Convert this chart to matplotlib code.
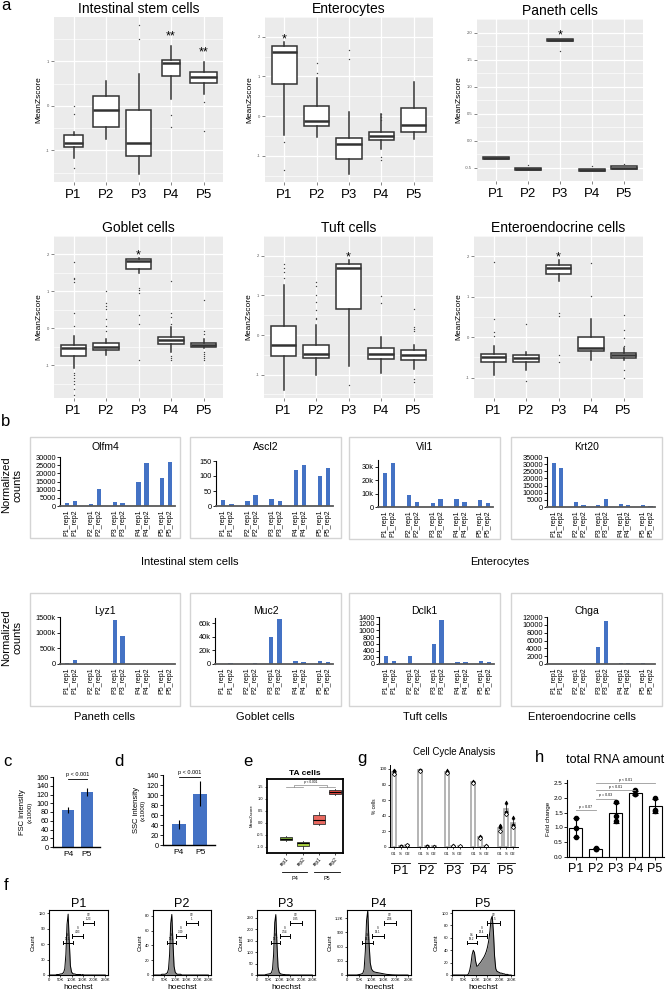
import numpy as np
import matplotlib
matplotlib.use('Agg')
import matplotlib.pyplot as plt
import matplotlib.transforms as mtransforms
from matplotlib.patches import Rectangle

plt.rcParams['font.family'] = ['Liberation Sans', 'DejaVu Sans']

W, H = 668, 992

passages = ['P1', 'P2', 'P3', 'P4', 'P5']

# a) MeanZscore boxes: (median, q1, q3, whisker lo, whisker hi, outliers)
isc_box = [(-0.84, -0.92, -0.65, -1.17, -0.59, [0.0, -0.17, -1.4]),
           (-0.08, -0.48, 0.23, -0.75, 0.56, []),
           (-0.84, -1.12, -0.08, -1.52, 0.72, [1.83, 1.5]),
           (0.96, 0.68, 1.04, 0.16, 1.34, [-0.2, -0.47]),
           (0.66, 0.51, 0.77, 0.27, 0.98, [0.08, -0.56])]
ent_box = [(1.61, 0.82, 1.77, -0.47, 1.86, [-0.64, -1.36]),
           (-0.11, -0.26, 0.25, -0.52, 0.95, [1.33, 1.09]),
           (-0.70, -1.07, -0.56, -1.47, 0.11, [1.67, 1.45]),
           (-0.50, -0.60, -0.41, -0.83, 0.06, [0.05, -0.03, -0.1, -1.04, -1.11]),
           (-0.22, -0.39, 0.21, -0.58, 0.86, [])]
paneth_box = [(-0.33, -0.35, -0.31, -0.35, -0.31, []),
              (-0.52, -0.54, -0.50, -0.54, -0.50, [-0.45]),
              (1.86, 1.84, 1.88, 1.84, 1.88, [1.66]),
              (-0.54, -0.56, -0.52, -0.56, -0.52, [-0.47]),
              (-0.50, -0.52, -0.48, -0.52, -0.48, [-0.43])]
goblet_box = [(-0.53, -0.76, -0.46, -1.09, -0.20, [1.8, 1.37, 1.33, 1.24, 0.41, 0.07, -1.2, -1.28, -1.36, -1.44, -1.52, -1.65, -1.8]),
              (-0.50, -0.59, -0.40, -0.72, -0.28, [1.0, 0.69, 0.61, 0.53, 0.24, 0.07, -0.07]),
              (1.81, 1.61, 1.87, 1.51, 1.91, [1.08, 1.04, 0.96, 0.37, 0.11, -0.87]),
              (-0.33, -0.42, -0.24, -0.63, 0.04, [1.27, 0.41, 0.31, 0.11, -0.75, -0.8, -0.87]),
              (-0.45, -0.50, -0.40, -0.53, -0.28, [0.76, -0.07, -0.15, -0.63, -0.7, -0.75, -0.8, -0.87])]
tuft_box = [(-0.26, -0.54, 0.23, -1.40, 1.26, [1.8, 1.68, 1.6, 1.44]),
            (-0.47, -0.59, -0.24, -1.00, 0.26, [1.33, 1.25, 1.0, 0.83, 0.64, 0.44, 0.4]),
            (1.70, 0.66, 1.80, -0.79, 1.90, [-1.25]),
            (-0.48, -0.60, -0.32, -0.97, -0.04, [0.98, 0.8]),
            (-0.50, -0.62, -0.37, -0.86, -0.24, [0.66, 0.21, 0.16, 0.1, -1.11, -1.18])]
eec_box = [(-0.50, -0.62, -0.41, -0.93, -0.21, [1.86, 0.46, 0.14, 0.03]),
           (-0.52, -0.60, -0.43, -0.81, -0.36, [0.33, -1.07]),
           (1.71, 1.57, 1.79, 1.40, 1.90, [0.6, 0.52, -0.43, -0.6]),
           (-0.26, -0.34, 0.01, -0.57, 0.45, [1.83, 1.02]),
           (-0.45, -0.52, -0.40, -0.57, -0.26, [0.55, 0.19, -0.03, -0.21, -0.81, -1.0])]
isc_stars = ['', '', '', '**', '**']
ent_stars = ['*', '', '', '', '']
p3_stars = ['', '', '*', '', '']

# b) normalized counts
rep_labels = ['P1_rep1', 'P1_rep2', 'P2_rep1', 'P2_rep2', 'P3_rep1', 'P3_rep2',
              'P4_rep1', 'P4_rep2', 'P5_rep1', 'P5_rep2']
olfm4 = [2000, 3000, 1200, 10500, 2500, 2000, 14500, 26500, 17000, 27000]
ascl2 = [20, 8, 17, 37, 23, 17, 120, 137, 99, 126]
vil1 = [25500, 32500, 9000, 4000, 3200, 6000, 6000, 4000, 5200, 3200]
krt20 = [30500, 27500, 3500, 1500, 1500, 5500, 2200, 1200, 1500, 900]
lyz1 = [30000, 130000, 0, 0, 1400000, 880000, 10000, 0, 0, 0]
muc2 = [500, 1500, 0, 1500, 40000, 66000, 4000, 3000, 5000, 3000]
dclk1 = [230, 100, 240, 0, 600, 1300, 50, 60, 100, 60]
chga = [0, 0, 0, 0, 4400, 11000, 150, 250, 200, 100]

# c, d) scatter intensity (x1000)
cd_groups = ['P4', 'P5']
fsc_mean = [84, 126]
fsc_err = [7, 9]
ssc_mean = [42, 103]
ssc_err = [9, 25]

# e) TA cells
ta_labels = ['rep1', 'rep2', 'rep1', 'rep2']
ta_box = [(-0.65, -0.72, -0.58, -0.75, -0.55, []),
          (-0.85, -0.97, -0.78, -1.10, -0.75, []),
          (0.12, -0.05, 0.35, -0.10, 0.45, []),
          (1.30, 1.20, 1.38, 1.15, 1.42, [])]

# g) cell cycle, replicate % cells
phases = ['G1', 'S', 'G2']
cc_g1 = [[98, 97, 93], [99, 98, 97], [98, 96, 95], [84, 83, 82], [28, 25, 20]]
cc_s = [[1, 1.5, 0.5], [1, 1.5, 0.5], [2.5, 1.5, 1], [14, 13, 12], [58, 45, 42]]
cc_g2 = [[1, 3, 2], [1, 0.5, 0.5], [1, 0.5, 0.8], [2, 1.5, 1], [38, 28, 26]]

# h) total RNA fold change
rna_reps = [[1.32, 0.98, 0.68], [0.30, 0.28, 0.26], [1.85, 1.40, 1.20],
            [2.25, 2.13, 2.12], [2.00, 1.60, 1.55]]
rna_tests = [(0, 1, 'p = 0.07'), (1, 2, 'p = 0.03'), (1, 3, 'p < 0.01'), (1, 4, 'p < 0.01')]

# f) hoechst histograms, counts per 5K bin from 0 to 250K
hoechst_k = np.arange(0, 255, 5)
hist_p1 = [0, 0, 0, 0, 0, 0, 0, 1, 1, 1, 2, 2, 3, 5, 12, 40, 98, 118, 65, 18,
           6, 3, 2, 2, 1, 1, 1, 1, 1, 0, 1, 0, 0, 0, 0, 0, 0, 0, 0, 0,
           0, 0, 0, 0, 0, 0, 0, 0, 0, 0, 0]
hist_p2 = [0, 0, 0, 0, 0, 0, 0, 0, 1, 1, 1, 1, 2, 3, 8, 28, 70, 82, 45, 12,
           4, 2, 1, 1, 1, 1, 0, 0, 0, 0, 0, 0, 0, 0, 0, 0, 0, 0, 0, 0,
           0, 0, 0, 0, 0, 0, 0, 0, 0, 0, 0]
hist_p3 = [0, 0, 0, 0, 0, 0, 0, 0, 2, 3, 4, 5, 6, 10, 25, 90, 230, 265, 140, 35,
           12, 6, 4, 3, 2, 2, 1, 1, 1, 1, 0, 0, 0, 0, 0, 0, 0, 0, 0, 0,
           0, 0, 0, 0, 0, 0, 0, 0, 0, 0, 0]
hist_p4 = [0, 0, 0, 0, 0, 0, 0, 0, 0, 5, 10, 15, 25, 40, 120, 500, 1150, 1360, 700, 260,
           130, 90, 70, 60, 55, 50, 45, 40, 35, 30, 25, 20, 15, 12, 10, 8, 6, 4, 3, 2,
           1, 1, 0, 0, 0, 0, 0, 0, 0, 0, 0]
hist_p5 = [0, 0, 0, 0, 0, 0, 0, 0, 0, 0, 0, 0, 0, 0, 2, 8, 18, 33, 40, 36,
           22, 14, 15, 18, 20, 23, 26, 29, 33, 38, 45, 55, 70, 90, 95, 70, 30, 10, 6, 5,
           4, 3, 3, 2, 2, 1, 1, 1, 0, 0, 0]
gate_pct = [['93.2', '4.83', '1.23'], ['95.1', '3.49', '1'], ['95.7', '3.54', '0.35'],
            ['83.3', '14.1', '2.06'], ['18.2', '29.4', '45.5']]

fig = plt.figure(figsize=(W / 100, H / 100), dpi=100)


def ax_px(x0, y0, x1, y1):
    return fig.add_axes([x0 / W, 1 - y1 / H, (x1 - x0) / W, (y1 - y0) / H])


def txt(x, y, s, **kw):
    kw.setdefault('ha', 'center')
    kw.setdefault('va', 'center')
    fig.text(x / W, 1 - y / H, s, **kw)


def frame(x0, y0, x1, y1):
    fig.patches.append(Rectangle((x0 / W, 1 - y1 / H), (x1 - x0) / W, (y1 - y0) / H,
                                 transform=fig.transFigure, fill=False,
                                 edgecolor='#D4D4D4', linewidth=1.0))


def to_bxp(stats):
    return [dict(med=m, q1=a, q3=b, whislo=lo, whishi=hi, fliers=fl)
            for m, a, b, lo, hi, fl in stats]


# ---------------- a ----------------
def zscore_panel(rect, title, stats, stars, ylim, yticks, ylabels, widths=0.78, star_pad=0.1):
    ax = ax_px(*rect)
    ax.set_facecolor('#EBEBEB')
    ax.bxp(to_bxp(stats), positions=range(1, 6), widths=widths, patch_artist=True,
           showcaps=False, manage_ticks=False, zorder=3,
           boxprops=dict(facecolor='white', edgecolor='#333333', linewidth=1.1),
           medianprops=dict(color='#333333', linewidth=1.8),
           whiskerprops=dict(color='#333333', linewidth=1.1),
           flierprops=dict(marker='o', markersize=1.0, markerfacecolor='#444444',
                           markeredgecolor='none'))
    ax.set_xlim(0.4, 5.6)
    ax.set_ylim(*ylim)
    ax.set_yticks(yticks)
    ax.set_yticklabels(ylabels, fontsize=3, color='#555555')
    step = yticks[1] - yticks[0]
    ax.set_yticks(np.arange(yticks[0] - step / 2, yticks[-1] + step, step), minor=True)
    ax.set_xticks(range(1, 6))
    ax.set_xticklabels(passages, fontsize=9.5)
    ax.grid(which='major', color='white', linewidth=0.9)
    ax.grid(which='minor', axis='y', color='white', linewidth=0.45)
    ax.set_axisbelow(True)
    ax.tick_params(which='major', length=2, width=0.5, color='#555555', pad=1.5)
    ax.tick_params(axis='x', pad=3)
    ax.tick_params(which='minor', length=0)
    for s in ax.spines.values():
        s.set_visible(False)
    ax.set_ylabel('MeanZscore', fontsize=6, labelpad=2)
    ax.set_title(title, fontsize=10, pad=3)
    for i, s in enumerate(stars):
        if s:
            ax.text(i + 1, stats[i][4] + star_pad, s, ha='center', va='center', fontsize=9)


zscore_panel((54, 17, 223, 182), 'Intestinal stem cells', isc_box, isc_stars,
             (-1.71, 2.0), [-1, 0, 1], ['-1', '0', '1'],
             widths=[0.56, 0.82, 0.78, 0.56, 0.82], star_pad=0.22)
zscore_panel((265, 17, 433, 182), 'Enterocytes', ent_box, ent_stars,
             (-1.66, 2.08), [-1, 0, 1, 2], ['-1', '0', '1', '2'], star_pad=0.07)
zscore_panel((477, 19, 643, 181), 'Paneth cells', paneth_box, p3_stars,
             (-0.67, 2.02), [-0.5, 0, 0.5, 1.0, 1.5, 2.0],
             ['-0.5', '0.0', '0.5', '1.0', '1.5', '2.0'], widths=0.8, star_pad=0.06)
zscore_panel((54, 236, 223, 398), 'Goblet cells', goblet_box, p3_stars,
             (-1.89, 2.07), [-1, 0, 1, 2], ['-1', '0', '1', '2'], star_pad=0.07)
zscore_panel((264, 236, 433, 398), 'Tuft cells', tuft_box, p3_stars,
             (-1.59, 2.07), [-1, 0, 1, 2], ['-1', '0', '1', '2'], star_pad=0.07)
zscore_panel((474, 236, 643, 398), 'Enteroendocrine cells', eec_box, p3_stars,
             (-1.31, 2.05), [-1, 0, 1, 2], ['-1', '0', '1', '2'], star_pad=0.06)

# ---------------- b ----------------
rep_pos = [i // 2 * 3 + i % 2 for i in range(10)]


def count_panel(box, rect, title, title_y, vals, ymax, yticks, ylabels):
    frame(*box)
    ax = ax_px(*rect)
    ax.bar(rep_pos, vals, width=0.55, color='#4472C4')
    ax.set_xlim(-0.9, 13.6)
    ax.set_ylim(0, ymax)
    ax.set_yticks(yticks)
    ax.set_yticklabels(ylabels, fontsize=5.3)
    ax.set_xticks(rep_pos)
    ax.set_xticklabels(rep_labels, rotation=90, fontsize=5)
    ax.tick_params(axis='x', length=0, pad=2.5)
    ax.tick_params(axis='y', length=2, width=0.6, pad=1)
    ax.spines['top'].set_visible(False)
    ax.spines['right'].set_visible(False)
    ax.spines['left'].set_linewidth(0.8)
    ax.spines['bottom'].set_color('#595959')
    ax.spines['bottom'].set_linewidth(1.3)
    txt((box[0] + box[2]) / 2, title_y, title, fontsize=7.5)


count_panel((30, 437, 180, 538), (60, 457, 175, 506), 'Olfm4', 447, olfm4, 30000,
            range(0, 30001, 5000), [str(v) for v in range(0, 30001, 5000)])
count_panel((190, 437, 341, 538), (216, 461, 333, 506), 'Ascl2', 447, ascl2, 150,
            [0, 50, 100, 150], ['0', '50', '100', '150'])
count_panel((349, 437, 500, 539), (378, 460, 493, 507), 'Vil1', 447, vil1, 35000,
            [0, 10000, 20000, 30000], ['0', '10k', '20k', '30k'])
count_panel((511, 437, 662, 539), (547, 457, 655, 507), 'Krt20', 447, krt20, 35000,
            range(0, 35001, 5000), [str(v) for v in range(0, 35001, 5000)])
count_panel((30, 593, 180, 706), (60, 617, 175, 664), 'Lyz1', 611, lyz1, 1500000,
            [0, 500000, 1000000, 1500000], ['0', '500k', '1000k', '1500k'])
count_panel((190, 593, 341, 706), (215, 618, 333, 664), 'Muc2', 611, muc2, 68000,
            [0, 20000, 40000, 60000], ['0', '20k', '40k', '60k'])
count_panel((349, 593, 500, 706), (379, 617, 494, 664), 'Dclk1', 611, dclk1, 1400,
            range(0, 1401, 200), [str(v) for v in range(0, 1401, 200)])
count_panel((511, 593, 662, 706), (547, 617, 655, 664), 'Chga', 611, chga, 12000,
            range(0, 12001, 2000), [str(v) for v in range(0, 12001, 2000)])

txt(12, 485, 'Normalized\ncounts', fontsize=8, rotation=90, linespacing=1.1)
txt(12, 638, 'Normalized\ncounts', fontsize=8, rotation=90, linespacing=1.1)
txt(190, 562, 'Intestinal stem cells', fontsize=8)
txt(500, 562, 'Enterocytes', fontsize=8)
txt(105, 717, 'Paneth cells', fontsize=8)
txt(265, 717, 'Goblet cells', fontsize=8)
txt(425, 717, 'Tuft cells', fontsize=8)
txt(582, 717, 'Enteroendocrine cells', fontsize=8)


# ---------------- c, d ----------------
def scatter_panel(rect, means, errs, ymax, ystep, xlim, lab_x, lab):
    ax = ax_px(*rect)
    ax.bar([1, 2], means, yerr=errs, width=0.65, color='#4472C4',
           error_kw=dict(ecolor='black', elinewidth=0.8, capsize=0))
    ax.set_xlim(*xlim)
    ax.set_ylim(0, ymax)
    ax.set_yticks(range(0, ymax + 1, ystep))
    ax.tick_params(axis='y', labelsize=5.3, length=2, width=0.6, pad=1)
    ax.set_xticks([1, 2])
    ax.set_xticklabels(cd_groups, fontsize=6)
    ax.tick_params(axis='x', length=0, pad=3)
    ax.spines['top'].set_visible(False)
    ax.spines['right'].set_visible(False)
    ax.spines['left'].set_linewidth(0.8)
    ax.spines['bottom'].set_linewidth(1.0)
    top = ymax * 0.97
    ax.plot([1, 2], [top, top], color='black', lw=0.6, clip_on=False)
    ax.text(1.5, top + ymax * 0.03, 'p < 0.001', fontsize=4, ha='center', va='bottom')
    txt(lab_x, (rect[1] + rect[3]) / 2, lab, fontsize=5.5, rotation=90)
    txt(lab_x + 7, (rect[1] + rect[3]) / 2, '(x1000)', fontsize=4.5, rotation=90)
    return ax


scatter_panel((53, 777, 100, 847), fsc_mean, fsc_err, 160, 20, (0.2, 2.7), 23, 'FSC intensity')
scatter_panel((163, 775, 215, 845), ssc_mean, ssc_err, 140, 20, (0.25, 2.7), 136, 'SSC intensity')

# ---------------- e ----------------
ax = ax_px(267, 779, 343, 853)
parts = ax.bxp(to_bxp(ta_box), positions=[1, 2, 3, 4], widths=0.75, patch_artist=True,
               showcaps=False, manage_ticks=False,
               boxprops=dict(edgecolor='#333333', linewidth=0.6),
               medianprops=dict(color='black', linewidth=0.8),
               whiskerprops=dict(color='#333333', linewidth=0.6))
for patch, c in zip(parts['boxes'], ['#78A632', '#A9D03F', '#E8685F', '#E0453C']):
    patch.set_facecolor(c)
ax.set_xlim(-0.2, 4.5)
ax.set_ylim(-1.25, 1.83)
ax.set_yticks([-1.0, -0.5, 0.0, 0.5, 1.0, 1.5])
ax.set_yticklabels(['-1.0', '-0.5', '0.0', '0.5', '1.0', '1.5'], fontsize=2.8)
ax.tick_params(axis='y', length=1.5, width=0.5, pad=1)
ax.set_xticks([1, 2, 3, 4])
ax.set_xticklabels(ta_labels, rotation=45, fontsize=3.5, ha='right', rotation_mode='anchor')
ax.tick_params(axis='x', length=1.5, width=0.5, pad=1)
for s in ax.spines.values():
    s.set_linewidth(1.3)
ax.set_ylabel('MeanZscore', fontsize=3, labelpad=2)
ax.set_title('TA cells', fontsize=6, fontweight='bold', pad=3)
ax.plot([1, 2], [1.5, 1.5], color='#888888', lw=0.5)
ax.plot([3, 4], [1.5, 1.5], color='#888888', lw=0.5)
ax.plot([1.5, 1.5, 3.5, 3.5], [1.5, 1.6, 1.6, 1.5], color='#888888', lw=0.5)
ax.text(2.5, 1.62, 'p < 0.001', fontsize=2.3, ha='center', va='bottom')
tr = mtransforms.blended_transform_factory(ax.transData, ax.transAxes)
for i, g in enumerate(cd_groups):
    x0 = 1 + 2 * i
    ax.plot([x0 - 0.3, x0 + 1.3], [-0.26, -0.26], color='black', lw=0.6,
            transform=tr, clip_on=False)
    ax.text(x0 + 0.5, -0.31, g, fontsize=4, ha='center', va='top', transform=tr)

# ---------------- g ----------------
ax = ax_px(390, 765, 518, 847)
cc_all = [cc_g1, cc_s, cc_g2]
markers = ['^', 'o', 'D']
for i in range(5):
    for j in range(3):
        x = i * 4 + j
        reps = cc_all[j][i]
        ax.bar(x, np.mean(reps), width=0.6, facecolor='white', edgecolor='#A8A8A8', lw=1.2)
        ax.errorbar(x, np.mean(reps), yerr=np.std(reps), color='black', lw=0.5, capsize=1)
        for k, v in enumerate(reps):
            ax.plot(x, v, markers[k], ms=2.2, color='black',
                    mfc='white' if k == 2 else 'black', mew=0.5)
ax.set_xlim(-0.6, 18.8)
ax.set_ylim(0, 105)
ax.set_yticks(range(0, 101, 20))
ax.tick_params(axis='y', labelsize=3.2, length=1.5, width=0.5, pad=1)
ax.set_xticks([i * 4 + j for i in range(5) for j in range(3)])
ax.set_xticklabels(phases * 5, fontsize=3)
ax.tick_params(axis='x', length=1.5, width=0.5, pad=2)
ax.spines['top'].set_visible(False)
ax.spines['right'].set_visible(False)
ax.spines['left'].set_linewidth(0.7)
ax.spines['bottom'].set_linewidth(0.7)
ax.set_ylabel('% cells', fontsize=3.5, labelpad=2)
ax.set_title('Cell Cycle Analysis', fontsize=7, pad=7)
tr = mtransforms.blended_transform_factory(ax.transData, ax.transAxes)
for i, p in enumerate(passages):
    ax.plot([i * 4 - 0.4, i * 4 + 2.4], [-0.19, -0.19], color='black', lw=0.6,
            transform=tr, clip_on=False)
    ax.text(i * 4 + 1, -0.22, p, fontsize=9, ha='center', va='top', transform=tr)

# ---------------- h ----------------
ax = ax_px(567, 780, 664, 857)
rna_mean = [np.mean(r) for r in rna_reps]
rna_sd = [np.std(r, ddof=1) for r in rna_reps]
ax.bar(range(5), rna_mean, yerr=rna_sd, width=0.65, facecolor='white', edgecolor='black',
       lw=0.8, error_kw=dict(ecolor='black', elinewidth=0.8, capsize=2, capthick=0.8))
for i, r in enumerate(rna_reps):
    ax.plot([i] * len(r), r, 'o', ms=3, color='black')
ax.set_xlim(-0.45, 4.45)
ax.set_ylim(0, 2.6)
ax.set_yticks([0, 0.5, 1.0, 1.5, 2.0, 2.5])
ax.set_yticklabels(['0.0', '0.5', '1.0', '1.5', '2.0', '2.5'])
ax.tick_params(axis='y', labelsize=4.5, length=2, width=0.6, pad=1)
ax.set_xticks(range(5))
ax.set_xticklabels(passages, fontsize=9)
ax.tick_params(axis='x', length=2, width=0.6, pad=2)
ax.spines['top'].set_visible(False)
ax.spines['right'].set_visible(False)
ax.spines['left'].set_linewidth(0.8)
ax.spines['bottom'].set_linewidth(0.8)
ax.set_ylabel('Fold change', fontsize=4.5, labelpad=2)
ax.set_title('total RNA amount', fontsize=9, pad=12)
for (a, b, lab), y in zip(rna_tests, [1.58, 1.97, 2.27, 2.5]):
    ax.plot([a, b], [y, y], color='#999999', lw=0.6, clip_on=False)
    ax.text((a + b) / 2, y + 0.04, lab, fontsize=2.6, ha='center', va='bottom')

# ---------------- f ----------------
hists = [hist_p1, hist_p2, hist_p3, hist_p4, hist_p5]
hist_rects = [(49, 910, 108, 975), (153, 910, 211, 975), (257, 910, 315, 975),
              (347, 910, 411, 975), (452, 910, 514, 975)]
hist_ylims = [126, 88, 285, 1370, 105]
hist_yticks = [[0, 30, 60, 90, 120], [0, 20, 40, 60, 80], [0, 50, 100, 150, 200, 250],
               [0, 300, 600, 900, 1200], [0, 20, 40, 60, 80, 100]]
hist_ylabels = [None, None, None, ['0', '300', '600', '900', '1.2K'], None]
gate_x = [(62, 106), (103, 150), (150, 202)]
gate_y = [0.5, 0.6, 0.8]
gate_names = ['G1', 'S', 'G2']
for i in range(5):
    ax = ax_px(*hist_rects[i])
    ax.fill_between(hoechst_k, hists[i], color='#8C8C8C', lw=0)
    ax.plot(hoechst_k, hists[i], color='black', lw=0.7)
    ax.set_xlim(0, 262)
    ax.set_ylim(0, hist_ylims[i])
    ax.set_xticks([0, 50, 100, 150, 200, 250])
    ax.set_xticklabels(['0', '50K', '100K', '150K', '200K', '250K'], fontsize=3)
    ax.set_yticks(hist_yticks[i])
    if hist_ylabels[i]:
        ax.set_yticklabels(hist_ylabels[i])
    ax.tick_params(axis='y', labelsize=3, length=1.5, width=0.5, pad=1)
    ax.tick_params(axis='x', length=1.5, width=0.5, pad=1)
    for s in ax.spines.values():
        s.set_linewidth(0.8)
    ax.set_title(passages[i], fontsize=9, pad=2)
    ax.set_xlabel('hoechst', fontsize=6, labelpad=1)
    ax.set_ylabel('Count', fontsize=4.5, labelpad=2)
    for (x0, x1), gy, nm, pct in zip(gate_x, gate_y, gate_names, gate_pct[i]):
        y = gy * hist_ylims[i]
        d = 0.03 * hist_ylims[i]
        ax.plot([x0, x1], [y, y], color='black', lw=0.7)
        ax.plot([x0, x0], [y - d, y + d], color='black', lw=0.7)
        ax.plot([x1, x1], [y - d, y + d], color='black', lw=0.7)
        ax.text((x0 + x1) / 2, y + d, nm + '\n' + pct, fontsize=2, ha='center',
                va='bottom', linespacing=1.0)

# panel letters
for lab, x, y in [('a', 6, 6), ('b', 6, 422), ('c', 7, 762), ('d', 119, 762),
                  ('e', 248, 762), ('f', 6, 886), ('g', 362, 758), ('h', 540, 758)]:
    txt(x, y, lab, fontsize=12)

fig.savefig('out.png', dpi=100)
